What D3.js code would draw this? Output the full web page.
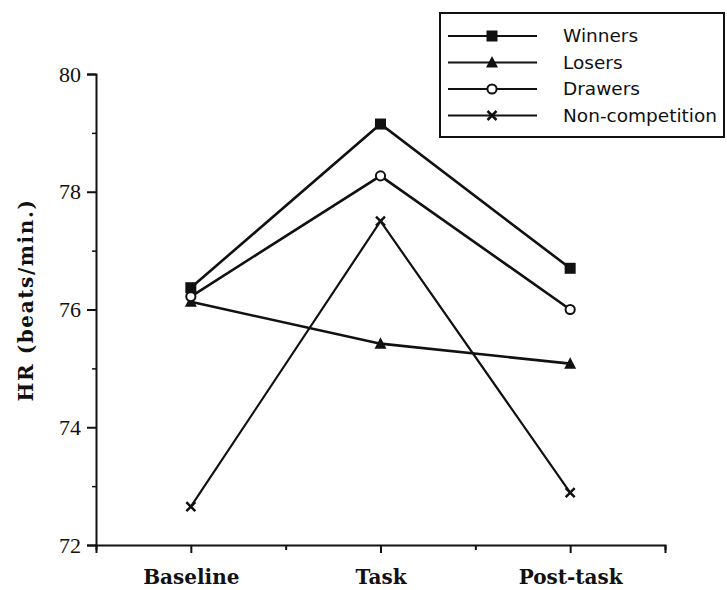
<!DOCTYPE html>
<html>
<head>
<meta charset="utf-8">
<script src="https://cdn.jsdelivr.net/npm/d3@7"></script>
<style>
  body { margin: 0; background: #fff; }
  svg { display: block; }
</style>
</head>
<body>
<svg id="chart"></svg>
<script>
const phases = ["Baseline", "Task", "Post-task"];
const yTicks = [72, 74, 76, 78, 80];
const yMinorTicks = [73, 75, 77, 79];

const winners = [76.37, 79.15, 76.70];
const losers = [76.13, 75.42, 75.08];
const drawers = [76.22, 78.27, 76.00];
const nonCompetition = [72.65, 77.50, 72.89];

const seriesNames = ["Winners", "Losers", "Drawers", "Non-competition"];
const seriesValues = [winners, losers, drawers, nonCompetition];
const seriesMarkers = ["square", "triangle", "circle", "cross"];

const width = 727, height = 590;
const svg = d3.select("#chart").attr("width", width).attr("height", height);

// phases sit at 1, 3, 5 on a 0..6 axis, with short ticks in between
const x = d3.scaleLinear().domain([0, 6]).range([96, 665]);
const y = d3.scaleLinear().domain([72, 80]).range([545, 74]);
const xPos = i => x(i * 2 + 1);

const serif = "'Liberation Serif', 'Times New Roman', serif";
const boldSerif = "'DejaVu Serif', serif";
const sans = "'DejaVu Sans', Verdana, sans-serif";

// y axis
const yAxis = svg.append("g")
    .attr("transform", `translate(${x(0)},0)`)
    .call(d3.axisLeft(y).tickValues(yTicks).tickSize(9).tickPadding(6).tickFormat(d3.format("d")));
yAxis.select(".domain").attr("stroke", "#111").attr("stroke-width", 2);
yAxis.selectAll(".tick line").attr("stroke", "#111").attr("stroke-width", 2);
yAxis.selectAll(".tick text")
    .style("font-family", serif).style("font-size", "22px").attr("fill", "#111");

svg.append("g")
    .attr("transform", `translate(${x(0)},0)`)
    .call(d3.axisLeft(y).tickValues(yMinorTicks).tickSize(4).tickFormat(""))
    .call(g => g.select(".domain").remove())
    .selectAll(".tick line").attr("stroke", "#111").attr("stroke-width", 1.5);

// x axis
const xAxis = svg.append("g")
    .attr("transform", `translate(0,${y(72)})`)
    .call(d3.axisBottom(x).tickValues([1, 3, 5]).tickSize(8).tickPadding(17)
        .tickFormat((d, i) => phases[i]));
xAxis.select(".domain").attr("stroke", "#111").attr("stroke-width", 2);
xAxis.selectAll(".tick line").attr("stroke", "#111").attr("stroke-width", 2);
xAxis.selectAll(".tick text")
    .style("font-family", boldSerif).style("font-weight", "bold").style("font-size", "20px")
    .attr("fill", "#111");

svg.append("g")
    .attr("transform", `translate(0,${y(72)})`)
    .call(d3.axisBottom(x).tickValues([0, 2, 4, 6]).tickSize(5).tickFormat(""))
    .call(g => g.select(".domain").remove())
    .selectAll(".tick line").attr("stroke", "#111").attr("stroke-width", 2);

// y axis title
svg.append("text")
    .attr("transform", "translate(33,300) rotate(-90)")
    .attr("text-anchor", "middle")
    .style("font-family", boldSerif)
    .style("font-weight", "bold")
    .style("font-size", "20px")
    .style("letter-spacing", "1.6px")
    .attr("fill", "#111")
    .text("HR (beats/min.)");

function drawMarker(g, type, cx, cy) {
    if (type === "square") {
        g.append("rect").attr("x", cx - 5.5).attr("y", cy - 5.5)
            .attr("width", 11).attr("height", 11).attr("fill", "#111");
    } else if (type === "triangle") {
        g.append("path")
            .attr("d", `M${cx},${cy - 6.5}L${cx + 6},${cy + 5}L${cx - 6},${cy + 5}Z`)
            .attr("fill", "#111");
    } else if (type === "circle") {
        g.append("circle").attr("cx", cx).attr("cy", cy).attr("r", 4.6)
            .attr("fill", "#fff").attr("stroke", "#111").attr("stroke-width", 2);
    } else {
        const s = 4.5;
        g.append("path")
            .attr("d", `M${cx - s},${cy - s}L${cx + s},${cy + s}M${cx - s},${cy + s}L${cx + s},${cy - s}`)
            .attr("stroke", "#111").attr("stroke-width", 2.5);
    }
}

const line = d3.line().x((d, i) => xPos(i)).y(d => y(d));

// draw back to front so Winners sits on top
const order = [3, 1, 2, 0];
order.forEach(k => {
    const g = svg.append("g");
    g.append("path")
        .attr("d", line(seriesValues[k]))
        .attr("fill", "none")
        .attr("stroke", "#111")
        .attr("stroke-width", k === 3 ? 2.2 : 2.6);
    seriesValues[k].forEach((v, i) => drawMarker(g, seriesMarkers[k], xPos(i), y(v)));
});

// legend
const legend = svg.append("g");
legend.append("rect")
    .attr("x", 440).attr("y", 13).attr("width", 284).attr("height", 124)
    .attr("fill", "#fff").attr("stroke", "#111").attr("stroke-width", 2);

seriesNames.forEach((name, k) => {
    const ly = 36 + k * 26.5;
    const row = legend.append("g");
    row.append("line")
        .attr("x1", 448).attr("x2", 537).attr("y1", ly).attr("y2", ly)
        .attr("stroke", "#111").attr("stroke-width", 1.8);
    drawMarker(row, seriesMarkers[k], 492, ly);
    row.append("text")
        .attr("x", 563).attr("y", ly + 6)
        .style("font-family", sans)
        .style("font-size", "18.5px")
        .attr("fill", "#111")
        .text(name);
});
</script>
</body>
</html>
